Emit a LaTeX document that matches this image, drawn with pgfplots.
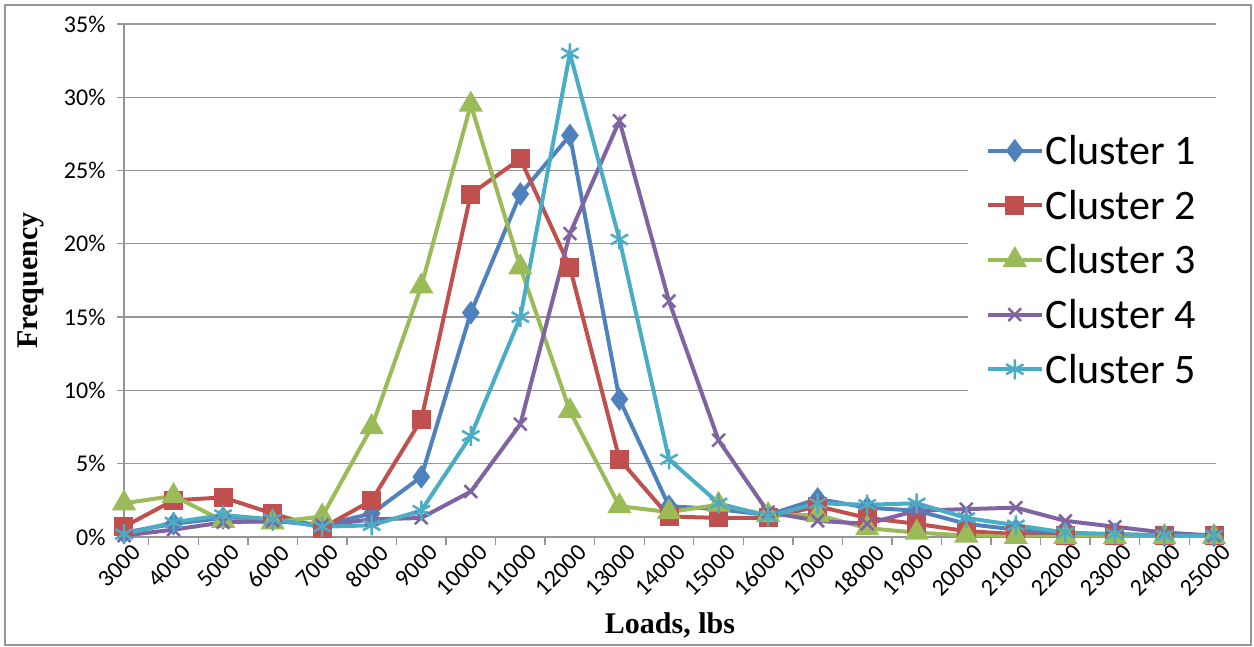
\documentclass[border=0pt]{standalone}
\usepackage{fontspec}
\setmainfont{Liberation Serif}
\newfontfamily\calib{Carlito}
\usepackage{pgfplots}
\usepackage{pgfplotstable}
\pgfplotsset{compat=1.18}

\definecolor{cone}{HTML}{4F81BD}
\definecolor{ctwo}{HTML}{C0504D}
\definecolor{cthree}{HTML}{9BBB59}
\definecolor{cfour}{HTML}{8064A2}
\definecolor{cfive}{HTML}{4BACC6}
\definecolor{gridgray}{HTML}{959595}

% loads (lbs) and frequency (%) for each cluster
\pgfplotstableread{
load  c1   c2   c3   c4   c5
3000  0.3  0.7  2.3  0.1  0.2
4000  0.9  2.5  2.8  0.5  1.0
5000  1.3  2.7  1.1  1.0  1.5
6000  1.2  1.6  1.0  1.1  1.2
7000  0.8  0.6  1.4  0.8  0.7
8000  1.6  2.5  7.5  1.2  0.8
9000  4.1  8.0  17.1 1.3  1.8
10000 15.3 23.4 29.5 3.1  6.9
11000 23.4 25.8 18.4 7.7  15.0
12000 27.4 18.4 8.6  20.7 33.0
13000 9.4  5.3  2.1  28.4 20.3
14000 2.1  1.4  1.7  16.1 5.3
15000 1.9  1.3  2.2  6.6  2.3
16000 1.5  1.3  1.5  1.7  1.4
17000 2.6  2.1  1.5  1.1  2.3
18000 2.0  1.3  0.6  0.9  2.2
19000 1.8  0.9  0.3  1.8  2.3
20000 0.9  0.4  0.1  1.9  1.3
21000 0.5  0.2  0.0  2.0  0.8
22000 0.2  0.1  0.0  1.1  0.3
23000 0.2  0.1  0.0  0.7  0.2
24000 0.1  0.1  0.0  0.3  0.1
25000 0.1  0.1  0.0  0.1  0.1
}\loads

\begin{document}
\begin{tikzpicture}[x=1pt,y=1pt]
\useasboundingbox (0,0) rectangle (1254,647);
\draw[gridgray, line width=1.5pt] (5,2) rectangle (1251,642);
\begin{axis}[
    at={(124pt,110pt)}, anchor=south west,
    scale only axis, width=1092pt, height=513pt,
    xmin=3000, xmax=25040, ymin=0, ymax=35,
    axis x line*=bottom, axis y line*=left,
    axis line style={draw=gridgray, line width=1.3pt},
    ymajorgrids, grid style={draw=gridgray, line width=1.3pt},
    ytick={0,5,...,35},
    yticklabel={\pgfmathprintnumber{\tick}\%},
    scaled x ticks=false,
    xtick={3000,4000,...,25000},
    xticklabel={\pgfmathprintnumber[fixed,1000 sep={}]{\tick}},
    minor xtick={3500,4500,...,24500},
    xtick style={draw=none},
    minor x tick style={draw=gridgray, line width=1.3pt},
    ytick style={draw=gridgray, line width=1.3pt},
    tick align=outside, major tick length=7pt, minor tick length=8pt,
    /pgf/number format/assume math mode=true,
    y tick label style={font=\fontsize{24}{28}\selectfont\calib, xshift=-8pt},
    x tick label style={font=\fontsize{24}{28}\selectfont\calib, rotate=45, anchor=north east, xshift=9pt, yshift=-1pt},
    ylabel={\textbf{Frequency}},
    ylabel style={font=\fontsize{30}{34}\selectfont, at={(axis description cs:-0.085,0.5)}, anchor=center},
    xlabel={\textbf{Loads, lbs}},
    xlabel style={font=\fontsize{30}{34}\selectfont, at={(axis description cs:0.5,-0.173)}, anchor=center},
    every axis plot/.append style={line width=4pt},
    legend style={at={(1.0,0.54)}, anchor=east, draw=none, fill=white,
        font=\fontsize{42}{46}\selectfont\calib, row sep=20pt,
        inner xsep=18pt, inner ysep=14pt},
    legend cell align=left,
    legend image code/.code={
        \draw[mark repeat=2,mark phase=2] plot coordinates {(0pt,0pt) (27pt,0pt) (54pt,0pt)};
    },
]
\addplot[cone, mark=diamond*, mark size=8.5pt, mark options={solid, fill=cone}] table[x=load,y=c1] {\loads};
\addlegendentry{Cluster 1}
\addplot[ctwo, mark=square*, mark size=7.5pt, mark options={solid, fill=ctwo}] table[x=load,y=c2] {\loads};
\addlegendentry{Cluster 2}
\addplot[cthree, mark=triangle*, mark size=10pt, mark options={solid, fill=cthree}] table[x=load,y=c3] {\loads};
\addlegendentry{Cluster 3}
\addplot[cfour, mark=x, mark size=9pt, mark options={solid, line width=2.5pt}] table[x=load,y=c4] {\loads};
\addlegendentry{Cluster 4}
\addplot[cfive, mark=asterisk, mark size=10pt, mark options={solid, line width=2.5pt}] table[x=load,y=c5] {\loads};
\addlegendentry{Cluster 5}
\end{axis}
\end{tikzpicture}
\end{document}
